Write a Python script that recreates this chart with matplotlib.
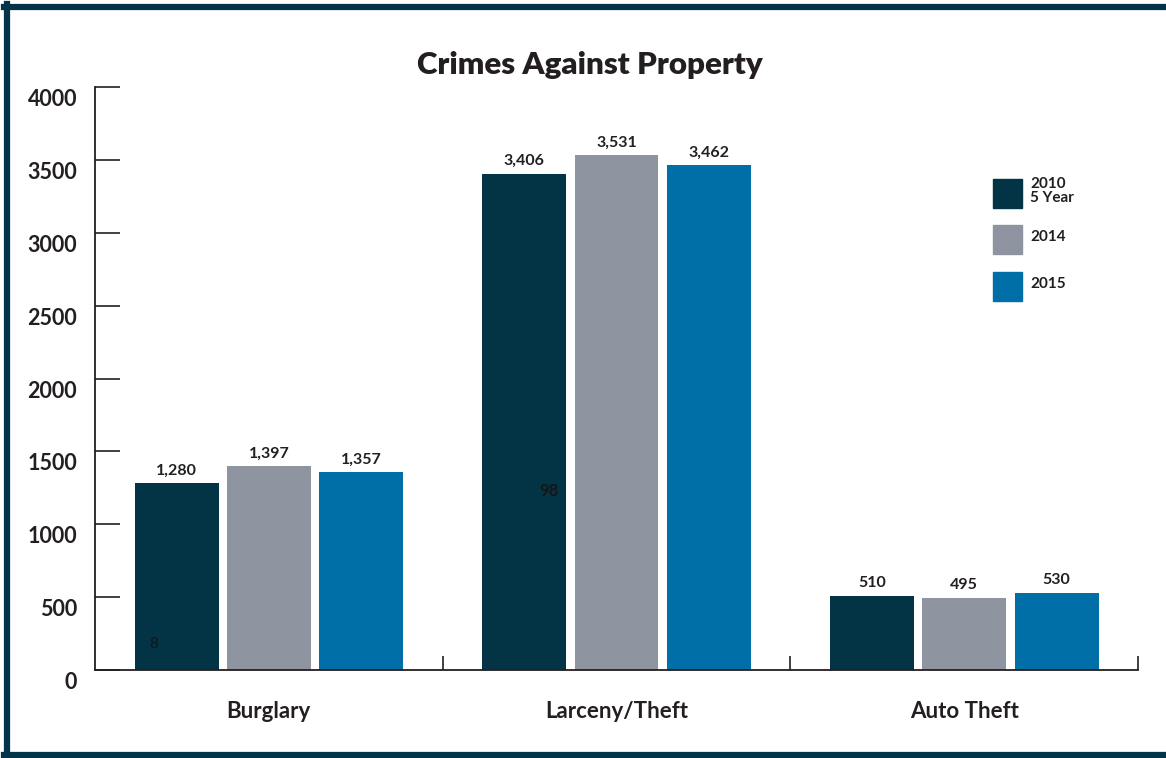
import matplotlib
matplotlib.use("Agg")
import numpy as np
import matplotlib.pyplot as plt
from matplotlib.patches import Rectangle
from matplotlib.lines import Line2D
from matplotlib.transforms import offset_copy

categories = ["Burglary", "Larceny/Theft", "Auto Theft"]
series_names = ["2010\n5 Year", "2014", "2015"]
values_2010 = [1280, 3406, 510]
values_2014 = [1397, 3531, 495]
values_2015 = [1357, 3462, 530]
y_ticks = [0, 500, 1000, 1500, 2000, 2500, 3000, 3500, 4000]

colors = ["#023446", "#8f95a0", "#006fa7"]
ink = "#231f20"
plt.rcParams["font.family"] = ["Lato", "DejaVu Sans"]

W, H = 1166, 758
fig = plt.figure(figsize=(W / 100, H / 100), dpi=100)
ax = fig.add_axes([95 / W, (H - 670) / H, (1138 - 95) / W, (670 - 87) / H])

x = np.arange(len(categories))
offsets = [-0.265, 0.0, 0.266]
width = 0.241
all_vals = [values_2010, values_2014, values_2015]
for vals, off, c, name in zip(all_vals, offsets, colors, series_names):
    bars = ax.bar(x + off, vals, width, color=c, label=name, zorder=2)
    for b, v in zip(bars, vals):
        ax.annotate(f"{v:,}", (b.get_x() + b.get_width() / 2, v),
                    xytext=(0, 4), textcoords="offset points",
                    ha="center", va="bottom", fontsize=11.5,
                    fontweight="bold", color=ink)

ax.set_xlim(-0.5, 2.5)
ax.set_ylim(0, 4000)

# spines
for s in ["top", "right"]:
    ax.spines[s].set_visible(False)
for s in ["left", "bottom"]:
    ax.spines[s].set_color(ink)
    ax.spines[s].set_linewidth(1.3)

# y ticks pointing inward, labels shifted below tick
ax.set_yticks(y_ticks)
ax.set_yticklabels([])
ax.tick_params(axis="y", direction="in", length=18, width=1.2, color=ink)
lbl_tr = offset_copy(ax.get_yaxis_transform(), fig=fig, x=-13, y=-9, units="points")
for t in y_ticks:
    ax.text(0, t, str(t), transform=lbl_tr, ha="right", va="center",
            fontsize=15.5, fontweight="bold", color=ink)

# category labels + separators
ax.set_xticks(x)
ax.set_xticklabels(categories, fontsize=16, fontweight="bold", color=ink)
ax.tick_params(axis="x", length=0, pad=22)
ax.set_xticks([0.5, 1.5, 2.5], minor=True)
ax.tick_params(axis="x", which="minor", direction="in", length=10, width=1.2, color=ink)

# stray numbers in the original
ax.text(-0.33, 175, "8", fontsize=11, color="#141414", ha="center", va="center", zorder=3)
ax.text(0.805, 1230, "98", fontsize=12, fontweight="bold", color="#161616",
        ha="center", va="center", zorder=3)

fig.text(590 / W, 1 - 65 / H, "Crimes Against Property", ha="center", va="center",
         fontsize=22.5, fontweight="heavy", color=ink)

# legend: squares with labels to the right
leg_tops = [179, 225, 272]
for top, c, name in zip(leg_tops, colors, series_names):
    fig.add_artist(Rectangle((993 / W, 1 - (top + 29) / H), 29 / W, 29 / H,
                             transform=fig.transFigure, color=c))
    fig.text(1030 / W, 1 - (top + 12) / H, name, ha="left", va="center",
             fontsize=11, fontweight="bold", color=ink, linespacing=0.95)

# frame: left, top, bottom (no right edge)
border = "#02344a"
fig.add_artist(Line2D([6.5 / W, 6.5 / W], [3 / H, 1 - 4 / H], transform=fig.transFigure,
                      color=border, lw=4.5))
fig.add_artist(Line2D([4 / W, 1], [1 - 6.5 / H, 1 - 6.5 / H], transform=fig.transFigure,
                      color=border, lw=4.5))
fig.add_artist(Line2D([4 / W, 1], [3.5 / H, 3.5 / H], transform=fig.transFigure,
                      color=border, lw=4.5))

fig.savefig("out.png", dpi=100)
